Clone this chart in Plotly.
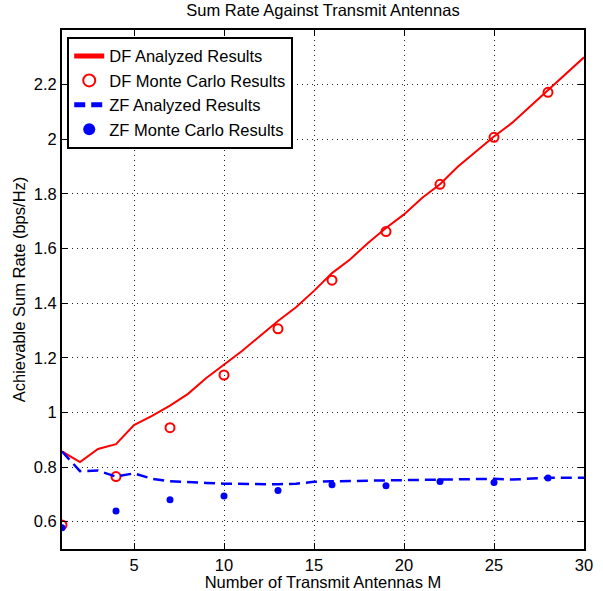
import plotly.graph_objects as go

M = list(range(1, 31))
df_analyzed = [0.857, 0.818, 0.866, 0.884, 0.954, 0.987, 1.025, 1.068, 1.125, 1.174,
               1.225, 1.280, 1.335, 1.385, 1.445, 1.510, 1.560, 1.620, 1.675, 1.725,
               1.785, 1.835, 1.900, 1.955, 2.010, 2.060, 2.120, 2.180, 2.240, 2.300]
zf_analyzed = [0.857, 0.785, 0.787, 0.765, 0.777, 0.757, 0.748, 0.744, 0.742, 0.739,
               0.738, 0.737, 0.737, 0.739, 0.746, 0.748, 0.749, 0.750, 0.750, 0.751,
               0.752, 0.753, 0.755, 0.756, 0.757, 0.754, 0.758, 0.761, 0.761, 0.761]
M_mc = [1, 4, 7, 10, 13, 16, 19, 22, 25, 28]
df_mc = [0.588, 0.765, 0.944, 1.137, 1.306, 1.484, 1.662, 1.835, 2.007, 2.172]
zf_mc = [0.578, 0.639, 0.680, 0.694, 0.714, 0.735, 0.732, 0.747, 0.743, 0.760]

x_ticks = [5, 10, 15, 20, 25, 30]
y_ticks = [0.6, 0.8, 1.0, 1.2, 1.4, 1.6, 1.8, 2.0, 2.2]
y_ticktext = ["0.6", "0.8", "1", "1.2", "1.4", "1.6", "1.8", "2", "2.2"]

FONT = "Liberation Sans, Arial, sans-serif"
FS = 16.5

fig = go.Figure()
fig.add_trace(go.Scatter(x=M, y=df_analyzed, mode="lines", name="DF Analyzed Results",
                         line=dict(color="#ff0000", width=2)))
fig.add_trace(go.Scatter(x=M_mc, y=df_mc, mode="markers", name="DF Monte Carlo Results",
                         marker=dict(symbol="circle-open", color="#ff0000", size=9,
                                     line=dict(width=2, color="#ff0000"))))
fig.add_trace(go.Scatter(x=M, y=zf_analyzed, mode="lines", name="ZF Analyzed Results",
                         line=dict(color="#0000ff", width=2.5, dash="11px,6px")))
fig.add_trace(go.Scatter(x=M_mc, y=zf_mc, mode="markers", name="ZF Monte Carlo Results",
                         marker=dict(symbol="circle", color="#0000ff", size=7)))

axis_common = dict(
    showline=True, linecolor="black", linewidth=2, mirror="allticks",
    ticks="inside", ticklen=6, tickcolor="black", tickwidth=1,
    showgrid=True, gridcolor="#222222", griddash="1px,4px", gridwidth=1,
    zeroline=False, automargin=False,
    tickfont=dict(family=FONT, size=FS, color="black"),
)

fig.update_layout(
    width=603, height=591,
    margin=dict(l=62, r=19, t=30, b=42),
    paper_bgcolor="white", plot_bgcolor="white",
    title=dict(text="Sum Rate Against Transmit Antennas", x=0.5, xref="paper",
               xanchor="center", y=0.982, yanchor="middle", automargin=False,
               font=dict(family=FONT, size=FS, color="black")),
    xaxis=dict(range=[1, 30], tickvals=x_ticks,
               title=dict(text="Number of Transmit Antennas M", standoff=0,
                          font=dict(family=FONT, size=FS, color="black")),
               **axis_common),
    yaxis=dict(range=[0.5, 2.4], tickvals=y_ticks, ticktext=y_ticktext,
               title=dict(text="Achievable Sum Rate (bps/Hz)", standoff=4,
                          font=dict(family=FONT, size=FS, color="black")),
               **axis_common),
    legend=dict(x=0.01, y=0.987, xanchor="left", yanchor="top",
                bordercolor="black", borderwidth=2, bgcolor="white",
                font=dict(family=FONT, size=FS, color="black"),
                tracegroupgap=0, itemsizing="constant"),
    showlegend=True,
)

fig.write_html("out.html")
